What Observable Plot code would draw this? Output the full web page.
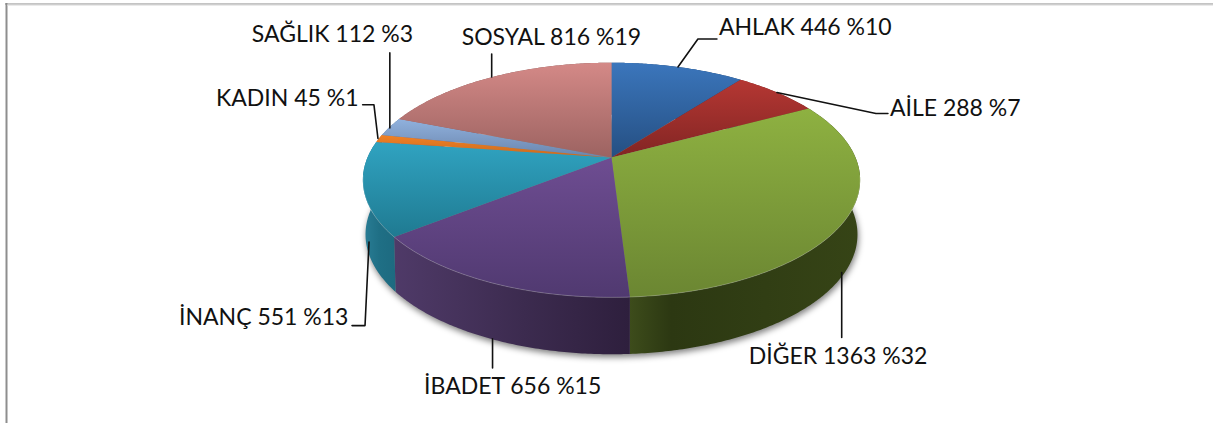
<!DOCTYPE html>
<html><head><meta charset="utf-8">
<script src="https://cdn.jsdelivr.net/npm/d3@7"></script>
<script src="https://cdn.jsdelivr.net/npm/@observablehq/plot@0.6"></script>
<style>html,body{margin:0;padding:0;background:#fff}svg{display:block}</style>
</head><body><div id="chart"></div>
<script>
// --- data ---
const categories = ["AHLAK","AİLE","DİĞER","İBADET","İNANÇ","KADIN","SAĞLIK","SOSYAL"];
const counts     = [446,288,1363,656,551,45,112,816];
const percents   = [10,7,32,15,13,1,3,19];

// --- styles ---
const topLight = ["#3b76bc","#b53733","#8eb141","#6e4d92","#30a3c1","#f18125","#90b1dd","#d48987"];
const topDark  = ["#254f82","#822523","#6b8632","#503970","#1f7a91","#c86a1f","#6a85ad","#9c6361"];
const wallA    = ["#254f82","#822523","#3d4c1b","#4f3a68","#2a7e96","#c86a1f","#6a85ad","#9c6361"];
const wallB    = ["#1d3f68","#661c1b","#2c3812","#3c2b4f","#1f6f85","#a0551a","#55708f","#7c4e4d"];
const wallC    = ["#1d3f68","#661c1b","#364416","#2e1f3d","#1d6a80","#a0551a","#55708f","#7c4e4d"];
const wallMid  = [0.5,0.5,0.18,0.55,0.5,0.5,0.5,0.5];

// --- layout of the projected disc (perspective) ---
const W = 1213, H = 423, cx = 611;
const rim  = {y0:157, g:113, h:244, k:0.192};
const base = {y0:210, g:115, h:241, k:0.20};
const project = (p, a) => {
  const u = Math.sin(a), v = -Math.cos(a), d = 1 - p.k * v;
  return {x: cx + p.h * u / d, y: p.y0 + p.g * v / d};
};
// leader bends and label starts, relative to each slice's mid-angle anchor
const anchorOn = ["rim","rim","base","base","base","rim","rim","rim"];
const leaderBends = [
  [[0,0],[20,-28],[39,-28]],
  [[0,0],[99,21],[111,21]],
  [[-3,0],[-3,65]],
  [[1.5,0],[1.5,29]],
  [[3,0],[-1,83.5],[-14,83.5]],
  [[-1,0],[-5,-33.7],[-16.3,-33.7]],
  [[0,1],[0,-74]],
  [[-1,0],[-1,-23]]
];
const labelDx = [41,113,-96,-67,-187,-163,-138,-31];
const labelDy = [-39,16,84,48,75.5,-40,-92,-39];

// --- derived geometry ---
const total = d3.sum(counts);
const ends = d3.cumsum(counts).map(c => c / total * 2 * Math.PI);
const slices = categories.map((name,i) => ({
  name, i, a0: i ? ends[i-1] : 0, a1: ends[i],
  mid: ((i ? ends[i-1] : 0) + ends[i]) / 2
}));
const arc = (p, a0, a1) => {
  const n = Math.max(2, Math.ceil((a1-a0)/0.01));
  return d3.range(n+1).map(j => project(p, a0 + (a1-a0)*j/n));
};
const topPoly = s => [{x:cx,y:rim.y0}, ...arc(rim,s.a0,s.a1)];
const wallPoly = s => [...arc(rim,s.a0,s.a1), ...arc(base,s.a0,s.a1).reverse()];
const anchor = s => project(anchorOn[s.i]==="rim" ? rim : base, s.mid);

const defs = () => {
  const d = d3.create("svg:defs");
  slices.forEach(s => {
    const t = d.append("linearGradient").attr("id",`top${s.i}`).attr("x1",0).attr("y1",0).attr("x2",0).attr("y2",1);
    t.append("stop").attr("offset",0).attr("stop-color",topLight[s.i]);
    t.append("stop").attr("offset",1).attr("stop-color",topDark[s.i]);
    const w = d.append("linearGradient").attr("id",`wall${s.i}`).attr("x1",0).attr("y1",0).attr("x2",1).attr("y2",0);
    w.append("stop").attr("offset",0).attr("stop-color",wallA[s.i]);
    w.append("stop").attr("offset",wallMid[s.i]).attr("stop-color",wallB[s.i]);
    w.append("stop").attr("offset",1).attr("stop-color",wallC[s.i]);
  });
  return d.node();
};

const XY = {x:"x", y:"y"};
const marks = [
  defs,
  Plot.ruleX([6],{y1:3,y2:H,stroke:"#8e8e8e",strokeWidth:2}),
  Plot.ruleY([3.5],{x1:5,x2:W,stroke:"#8a8a8a",strokeWidth:1.2}),
  Plot.ruleY([4.6],{x1:7,x2:W,stroke:"#dcdcdc",strokeWidth:1}),
  // soft shadow under the disc
  Plot.line(arc(base,0,2*Math.PI),{...XY,fill:"#000",stroke:"none",fillOpacity:0.5,dx:1,dy:3,imageFilter:"blur(3px)"}),
  ...slices.map(s => Plot.line(wallPoly(s),{...XY,fill:`url(#wall${s.i})`,stroke:"none"})),
  ...slices.map(s => Plot.line(topPoly(s),{...XY,fill:`url(#top${s.i})`,stroke:"none"})),
  // pale rim highlight on the front edge
  Plot.line(arc(rim,Math.PI*0.55,Math.PI*1.45),{...XY,stroke:"#fff",strokeOpacity:0.22,strokeWidth:1}),
  ...slices.map(s => {
    const a = anchor(s);
    return Plot.line(leaderBends[s.i].map(([dx,dy]) => ({x:a.x+dx,y:a.y+dy})),
      {...XY,stroke:"#111",strokeWidth:1.6,curve:"linear"});
  }),
  Plot.text(slices,{
    x: s => anchor(s).x + labelDx[s.i],
    y: s => anchor(s).y + labelDy[s.i],
    text: s => `${s.name} ${counts[s.i]} %${percents[s.i]}`,
    textAnchor:"start", lineAnchor:"middle",
    fontFamily:"Lato", fontSize:23, fill:"#111"
  })
];

const chart = Plot.plot({
  width:W, height:H, margin:0,
  x:{domain:[0,W],range:[0,W],axis:null},
  y:{domain:[0,H],range:[0,H],axis:null},
  style:{background:"#fff",fontFamily:"Lato"},
  marks
});
document.getElementById("chart").append(chart);
</script></body></html>
